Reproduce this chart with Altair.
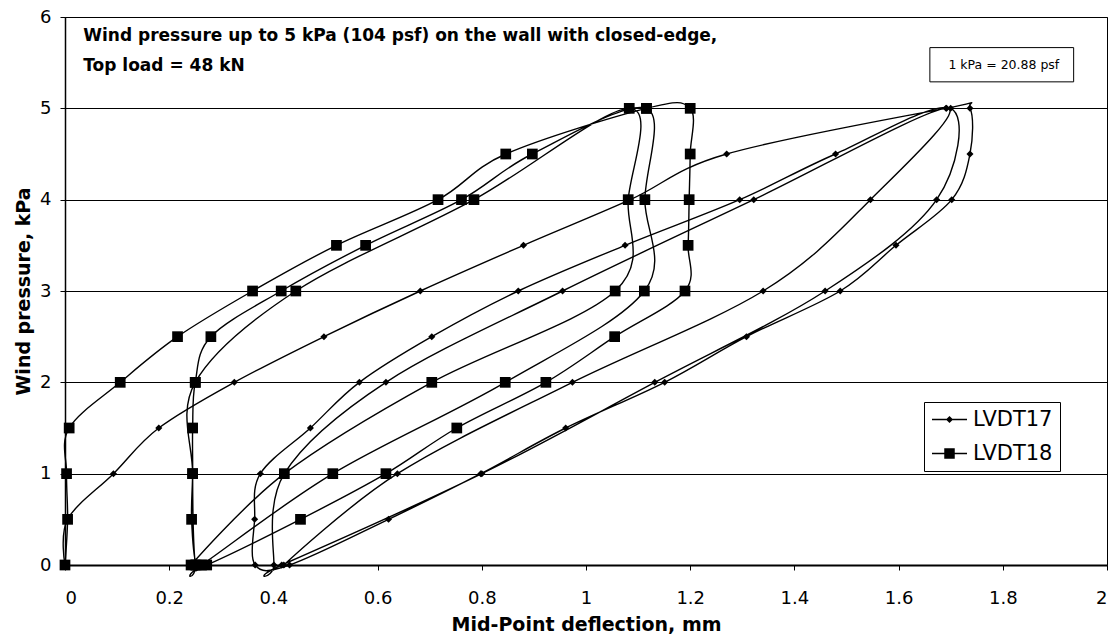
import altair as alt
import pandas as pd

# ---- data (deflection mm, pressure kPa), in test order ----
lvdt17_x = [0.0, 0.005, 0.093, 0.18, 0.325, 0.497, 0.682, 0.88, 1.085, 1.27, 1.691,
            1.737, 1.737, 1.702, 1.595, 1.488, 1.308, 1.151, 0.961, 0.798, 0.621, 0.431,
            0.365, 0.364, 0.375, 0.471, 0.565, 0.704, 0.87, 1.075, 1.295, 1.479, 1.70,
            1.673, 1.459, 1.132, 0.80, 0.416,
            0.401, 0.421, 0.616, 0.955, 1.322, 1.692,
            1.546, 1.34, 0.974, 0.638, 0.42]
lvdt17_y = [0, 0.5, 1, 1.5, 2, 2.5, 3, 3.5, 4, 4.5, 5,
            5, 4.5, 4, 3.5, 3, 2.5, 2, 1.5, 1, 0.5, 0,
            0, 0.5, 1, 1.5, 2, 2.5, 3, 3.5, 4, 4.5, 5,
            4, 3, 2, 1, 0,
            0, 1, 2, 3, 4, 5,
            4, 3, 2, 1, 0]

lvdt18_x = [0.0, 0.005, 0.003, 0.008, 0.106, 0.216, 0.36, 0.521, 0.716, 0.846, 1.116,
            1.2, 1.2, 1.198, 1.196, 1.19, 1.055, 0.923, 0.752, 0.616, 0.452, 0.272,
            0.252, 0.243, 0.245, 0.245, 0.25, 0.28, 0.415, 0.577, 0.761, 0.897, 1.116,
            1.113, 1.112, 0.845, 0.514, 0.262,
            0.25, 0.245, 0.25, 0.443, 0.785, 1.083,
            1.081, 1.056, 0.704, 0.421, 0.242]
lvdt18_y = [0, 0.5, 1, 1.5, 2, 2.5, 3, 3.5, 4, 4.5, 5,
            5, 4.5, 4, 3.5, 3, 2.5, 2, 1.5, 1, 0.5, 0,
            0, 0.5, 1, 1.5, 2, 2.5, 3, 3.5, 4, 4.5, 5,
            4, 3, 2, 1, 0,
            0, 1, 2, 3, 4, 5,
            4, 3, 2, 1, 0]

series_names = ["LVDT17", "LVDT18"]
x_ticks = [0, 0.2, 0.4, 0.6, 0.8, 1, 1.2, 1.4, 1.6, 1.8, 2]
y_ticks = [0, 1, 2, 3, 4, 5, 6]

rows = []
for name, xs, ys in [("LVDT17", lvdt17_x, lvdt17_y), ("LVDT18", lvdt18_x, lvdt18_y)]:
    for i, (xv, yv) in enumerate(zip(xs, ys)):
        rows.append({"series": name, "idx": i, "x": xv, "y": yv})
df = pd.DataFrame(rows)

FONT = "DejaVu Sans"
xscale = alt.Scale(domain=[0, 2], nice=False, zero=False)
yscale = alt.Scale(domain=[0, 6], nice=False, zero=False)

x_enc = alt.X("x:Q", scale=xscale, axis=alt.Axis(
    values=x_ticks, format="~g", grid=False, title="Mid-Point deflection, mm",
    labelFontSize=18, titleFontSize=19, titleFontWeight="bold",
    titleY=65, titleBaseline="alphabetic",
    labelPadding=19, tickSize=5, domainWidth=2))
y_enc = alt.Y("y:Q", scale=yscale, axis=alt.Axis(
    values=y_ticks, format="d", grid=True, gridColor="black", gridWidth=1, gridOpacity=1,
    title="Wind pressure, kPa", labelFontSize=18, titleFontSize=19, titleFontWeight="bold",
    titleX=-42, titleY=274, titleAngle=270, titleAlign="center", titleBaseline="middle",
    labelPadding=9, tickSize=5, domainWidth=1.5))

base = alt.Chart(df)

lines = base.mark_line(interpolate="cardinal", tension=0, color="black", strokeWidth=1.4).encode(
    x=x_enc, y=y_enc, detail="series:N", order="idx:Q")

points = base.mark_point(filled=True, opacity=1, color="black").encode(
    x="x:Q", y="y:Q",
    shape=alt.Shape("series:N", scale=alt.Scale(domain=series_names, range=["diamond", "square"]), legend=None),
    size=alt.Size("series:N", scale=alt.Scale(domain=series_names, range=[50, 115]), legend=None))

# legend symbols: a thin filled bar (the line) through the marker; unit = 10.5 px
bar = "M-1.667,-0.06L1.667,-0.06L1.667,0.06L-1.667,0.06Z"
path17 = bar + "M0,-0.34L0.34,0L0,0.34L-0.34,0Z"
path18 = bar + "M-0.5,-0.5L0.5,-0.5L0.5,0.5L-0.5,0.5Z"
legend_layer = base.transform_filter("datum.idx < 0").mark_point(filled=True, color="black", opacity=1).encode(
    x="x:Q", y="y:Q",
    shape=alt.Shape("series:N", scale=alt.Scale(domain=series_names, range=[path17, path18]),
                    legend=alt.Legend(title=None, orient="none", legendX=859, legendY=385,
                                      fillColor="white", strokeColor="black", padding=7,
                                      labelFontSize=21, labelFont=FONT, labelColor="black",
                                      symbolSize=441, symbolOffset=8, labelOffset=13, rowPadding=12,
                                      symbolFillColor="black", symbolStrokeWidth=0,
                                      symbolOpacity=1)))

note_box = alt.Chart(pd.DataFrame({"a": [0]})).mark_rect(fill="white", stroke="black", strokeWidth=1).encode(
    x=alt.datum(1.66), x2=alt.datum(1.936), y=alt.datum(5.29), y2=alt.datum(5.665))
note_text = alt.Chart(pd.DataFrame({"a": [0]})).mark_text(
    text="1 kPa = 20.88 psf", font=FONT, fontSize=12.5, color="black", align="center", baseline="middle").encode(
    x=alt.datum(1.802), y=alt.datum(5.478))

annot = alt.Chart(pd.DataFrame({"a": [0]})).mark_text(
    text=["Wind pressure up to 5 kPa (104 psf) on the wall with closed-edge,", "Top load = 48 kN"],
    font=FONT, fontSize=17, fontWeight="bold", color="black", align="left", baseline="middle",
    lineHeight=30).encode(x=alt.datum(0.035), y=alt.datum(5.79))

chart = alt.layer(lines, points, legend_layer, note_box, note_text, annot).resolve_scale(
    shape="independent"
).properties(
    width=1042, height=548,
    padding={"left": 65, "top": 17, "right": 12, "bottom": 73},
    autosize=alt.AutoSizeParams(type="none"),
    background="white",
).configure_view(stroke="black", strokeWidth=1).configure_axis(
    labelFont=FONT, titleFont=FONT, labelColor="black", titleColor="black",
    domainColor="black", tickColor="black")

chart.save("out.html", embed_options={"renderer": "svg", "actions": False})
